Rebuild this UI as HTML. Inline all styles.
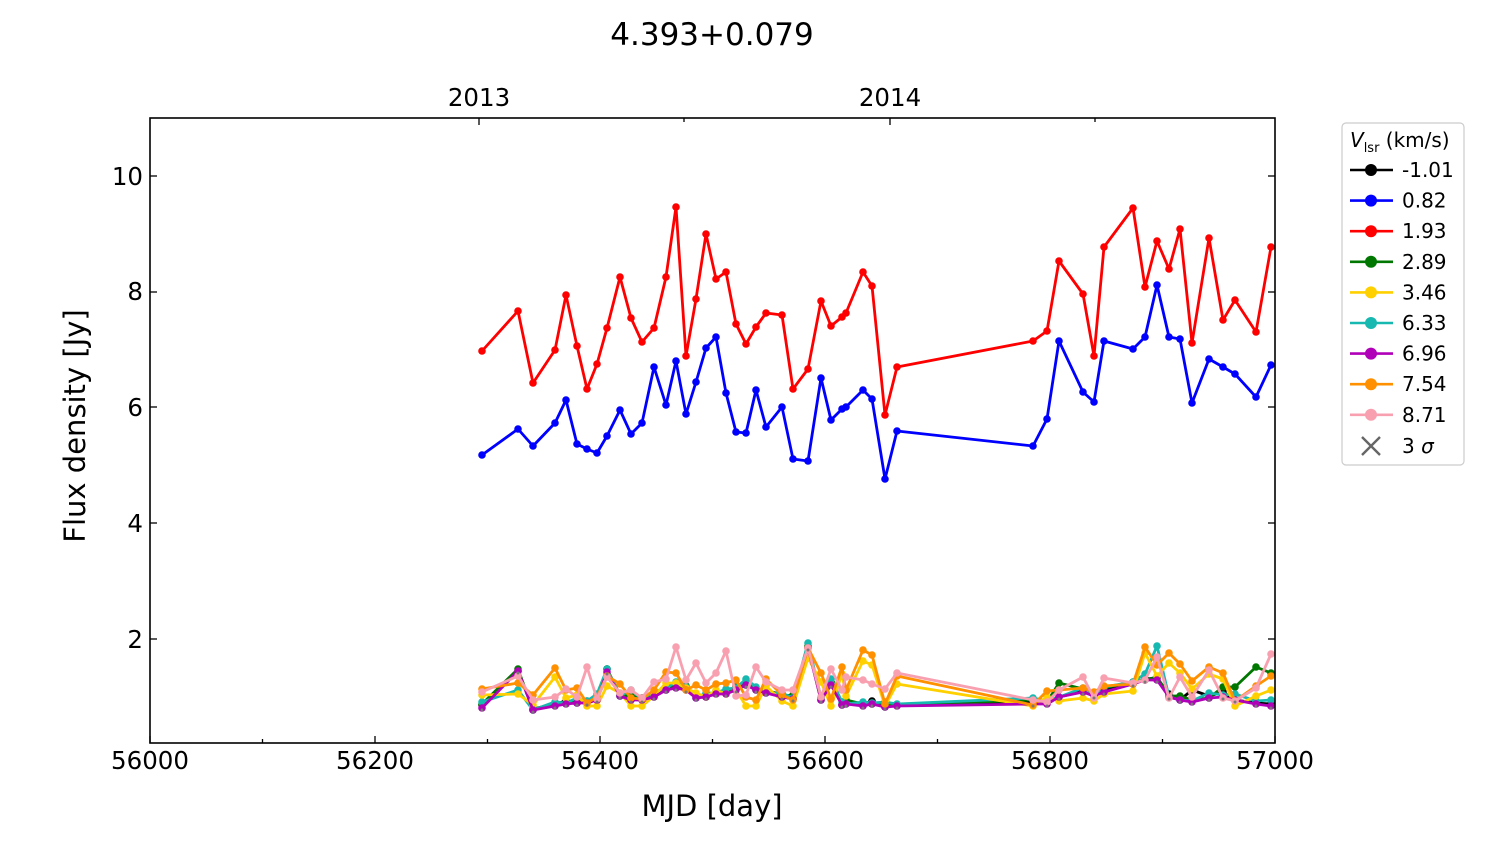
<!DOCTYPE html>
<html><head><meta charset="utf-8"><style>body{margin:0;background:#fff}svg{display:block}text{font-family:"DejaVu Sans","Liberation Sans",sans-serif;fill:#000}</style></head>
<body>
<svg id="s" width="1500" height="844" xmlns="http://www.w3.org/2000/svg">
<defs><clipPath id="c"><rect x="150" y="118" width="1125" height="625"/></clipPath></defs>
<rect width="1500" height="844" fill="#fff"/>
<text x="712" y="45" font-size="31" text-anchor="middle">4.393+0.079</text>
<g id="plot" clip-path="url(#c)"></g>
<rect x="150" y="118" width="1125" height="625" fill="none" stroke="#000" stroke-width="1.6"/>
<g id="ticks" stroke="#000" stroke-width="1.3"></g>
<g font-size="24.5" text-anchor="middle">
<text x="150" y="769">56000</text><text x="375" y="769">56200</text><text x="600" y="769">56400</text><text x="825" y="769">56600</text><text x="1050" y="769">56800</text><text x="1275" y="769">57000</text>
<text x="479" y="106">2013</text><text x="890" y="106">2014</text>
</g>
<g font-size="24.5" text-anchor="end">
<text x="143" y="648">2</text><text x="143" y="532">4</text><text x="143" y="416">6</text><text x="143" y="300">8</text><text x="143" y="185">10</text>
</g>
<text x="712" y="816" font-size="29" text-anchor="middle">MJD [day]</text>
<text transform="translate(85,426) rotate(-90)" font-size="29" text-anchor="middle">Flux density [Jy]</text>
<rect x="1342" y="123" width="122" height="342" rx="4" fill="#fff" stroke="#ccc" stroke-width="1.2"/>
<text x="1350" y="147" font-size="20"><tspan font-style="italic">V</tspan><tspan font-size="13" dy="5">lsr</tspan><tspan dy="-5"> (km/s)</tspan></text>
<g id="leg"></g>
</svg>
<script>
const NS="http://www.w3.org/2000/svg";
function el(p,t,a){const e=document.createElementNS(NS,t);for(const k in a)e.setAttribute(k,a[k]);p.appendChild(e);return e;}
const X=[482,518,533,555,566,577,587,597,607,620,631,642,654,666,676,686,696,706,716,726,736,746,756,766,782,793,808,821,831,842,846,863,872,885,897,1033,1047,1059,1083,1094,1104,1133,1145,1157,1169,1180,1192,1209,1223,1235,1256,1271];
const red=[351,311,383,350,295,346,389,364,328,277,318,342,328,277,207,356,299,234,279,272,324,344,327,313,315,389,369,301,326,317,313,272,286,415,367,341,331,261,294,356,247,208,287,241,269,229,343,238,320,300,332,247];
const blue=[455,429,446,423,400,444,449,453,436,410,434,423,367,405,361,414,382,348,337,393,432,433,390,427,407,459,461,378,420,409,407,390,399,479,431,446,419,341,392,402,341,349,337,285,337,339,403,359,367,374,397,365];
const purple=[708,671,710,706,704,703,703,700,672,696,700,700,697,690,688,690,698,697,694,694,690,685,690,693,697,699,648,700,685,705,704,706,704,707,706,704,704,697,692,696,692,684,680,680,697,700,702,698,697,700,704,706];
const pink=[692,676,700,697,689,697,667,699,677,693,690,698,682,679,647,680,663,683,673,651,696,695,667,682,690,690,648,697,669,690,677,680,684,689,673,700,702,690,677,698,678,683,680,657,698,677,697,670,698,701,688,654];
const orange=[689,683,695,668,690,688,703,697,676,684,698,699,690,672,673,690,685,690,684,683,680,697,700,679,695,700,648,673,699,667,690,650,655,704,676,705,691,690,688,692,686,684,647,665,653,664,681,667,673,701,686,676];
const green=purple.map((v,i)=>v-4+((i*7)%5));green[37]=683;green[48]=687;green[49]=687;green[50]=667;green[51]=673;
const cyan=purple.map((v,i)=>v-6+((i*3)%7));cyan[1]=690;cyan[10]=690;cyan[43]=646;cyan[45]=700;cyan[51]=700;
const yellow=orange.map((v,i)=>Math.min(706,v+6+((i*5)%6)));yellow[15]=688;yellow[51]=690;
const black=purple.map((v,i)=>v-3+((i*11)%4));black[46]=690;black[48]=692;
const series=[[black,"#000"],[green,"#007700"],[cyan,"#17b8b0"],[yellow,"#ffd000"],[purple,"#b000b8"],[orange,"#ff9000"],[pink,"#f8a0b0"],[blue,"#0000ff"],[red,"#ff0000"]];
const g=document.getElementById("plot");
for(const [Y,c] of series){
 el(g,"polyline",{points:X.map((x,i)=>x+","+Y[i]).join(" "),fill:"none",stroke:c,"stroke-width":2.8,"stroke-linejoin":"round"});
 X.forEach((x,i)=>el(g,"circle",{cx:x,cy:Y[i],r:3.8,fill:c}));
}
X.forEach((x,i)=>{const y=purple[i]+2;el(g,"circle",{cx:x,cy:y,r:1.5,fill:"#777"});});
const t=document.getElementById("ticks");
for(let k=0;k<=10;k++){const x=150+k*112.5,L=k%2?4:7;el(t,"line",{x1:x,y1:743,x2:x,y2:743-L});}
for(const x of [479,890]){el(t,"line",{x1:x,y1:118,x2:x,y2:125});}
for(const x of [684,1095]){el(t,"line",{x1:x,y1:118,x2:x,y2:122});}
for(const y of [639,523,407,292,176]){el(t,"line",{x1:150,y1:y,x2:157,y2:y});el(t,"line",{x1:1275,y1:y,x2:1268,y2:y});}
const leg=document.getElementById("leg");
const L=[["-1.01","#000"],["0.82","#0000ff"],["1.93","#ff0000"],["2.89","#007700"],["3.46","#ffd000"],["6.33","#17b8b0"],["6.96","#b000b8"],["7.54","#ff9000"],["8.71","#f8a0b0"]];
L.forEach(([n,c],i)=>{const y=170+i*30.6;el(leg,"line",{x1:1350,y1:y,x2:1393,y2:y,stroke:c,"stroke-width":2.6});el(leg,"circle",{cx:1371,cy:y,r:6,fill:c});const tx=el(leg,"text",{x:1402,y:y+7,"font-size":20});tx.textContent=n;});
const yx=446;el(leg,"path",{d:`M1362 ${yx-9}L1380 ${yx+9}M1362 ${yx+9}L1380 ${yx-9}`,stroke:"#666","stroke-width":2.4});
const tx=el(leg,"text",{x:1402,y:yx+7,"font-size":20});tx.innerHTML='3 <tspan font-style="italic">σ</tspan>';
</script>
</body></html>
